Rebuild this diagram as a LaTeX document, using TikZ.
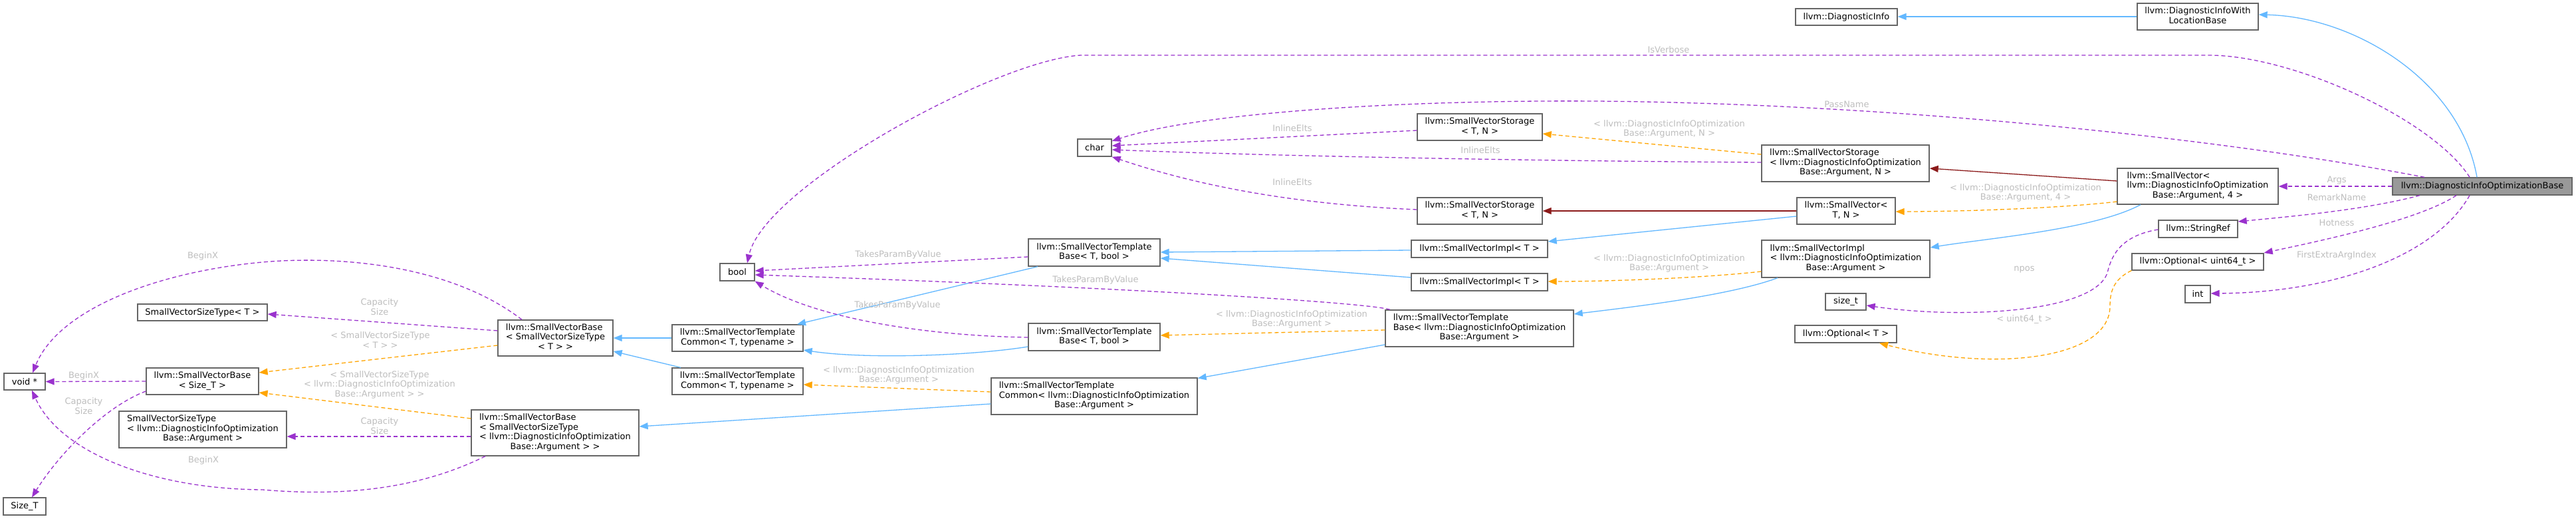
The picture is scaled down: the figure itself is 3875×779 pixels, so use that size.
\documentclass[tikz,border=0pt]{standalone}
\usepackage{fontspec}
\setmainfont{DejaVu Sans}
\usetikzlibrary{arrows.meta}
\definecolor{boxgray}{HTML}{666666}
\definecolor{maingray}{HTML}{999999}
\definecolor{inhblue}{HTML}{63B8FF}
\definecolor{tmplorange}{HTML}{FFA500}
\definecolor{usepurple}{HTML}{9A32CD}
\definecolor{strgred}{HTML}{8B1A1A}
\definecolor{lblgray}{HTML}{BEBEBE}
\newcommand{\nfont}{\fontsize{13}{14.5}\selectfont}
\newcommand{\nlab}[2]{\begin{tabular}{@{}l@{}}#1\\\multicolumn{1}{@{}c@{}}{#2}\end{tabular}}
\tikzset{
  cbox/.style={draw=boxgray, fill=white, line width=1.3pt, inner sep=0pt, align=center, font=\nfont},
  mainbox/.style={cbox, fill=maingray},
  lbl/.style={text=lblgray, font=\nfont, align=center, inner sep=0pt},
  tipstyle/.style={-{Triangle[length=13pt,width=10pt]}},
  inh/.style={draw=inhblue, line width=1.3pt, tipstyle, fill=none},
  strg/.style={draw=strgred, line width=1.3pt, tipstyle},
  tmpl/.style={draw=tmplorange, line width=1.3pt, dash pattern=on 6pt off 4pt, tipstyle},
  usage/.style={draw=usepurple, line width=1.3pt, dash pattern=on 6pt off 4pt, tipstyle},
}
\begin{document}
\begin{tikzpicture}[x=1pt,y=-1pt]
\fill[white] (0,0) rectangle (3875,779);
\useasboundingbox (0,0) rectangle (3875,779);

% nodes
\node[mainbox, minimum width=270pt, minimum height=26pt] (main) at (3734,280) {llvm::DiagnosticInfoOptimizationBase};
\node[cbox, minimum width=182pt, minimum height=40pt] (diwlb) at (3306,25) {\nlab{llvm::DiagnosticInfoWith}{LocationBase}};
\node[cbox, minimum width=153pt, minimum height=25pt] (dinfo) at (2777.5,25.5) {llvm::DiagnosticInfo};
\node[cbox, minimum width=242pt, minimum height=54pt] (sv4) at (3306,280) {\nlab{llvm::SmallVector<\\ llvm::DiagnosticInfoOptimization}{Base::Argument, 4 >}};
\node[cbox, minimum width=252pt, minimum height=55pt] (svsArgN) at (2776,245.5) {\nlab{llvm::SmallVectorStorage\\< llvm::DiagnosticInfoOptimization}{Base::Argument, N >}};
\node[cbox, minimum width=188pt, minimum height=40pt] (svsTN1) at (2226,191) {\nlab{llvm::SmallVectorStorage}{< T, N >}};
\node[cbox, minimum width=188pt, minimum height=40pt] (svsTN2) at (2226,317) {\nlab{llvm::SmallVectorStorage}{< T, N >}};
\node[cbox, minimum width=148pt, minimum height=40pt] (svTN) at (2777,317) {\nlab{llvm::SmallVector<}{T, N >}};
\node[cbox, minimum width=205pt, minimum height=26pt] (svimplT1) at (2225.5,374) {llvm::SmallVectorImpl< T >};
\node[cbox, minimum width=205pt, minimum height=26pt] (svimplT2) at (2225.5,424) {llvm::SmallVectorImpl< T >};
\node[cbox, minimum width=253pt, minimum height=56pt] (svimplArg) at (2776.5,389) {\nlab{llvm::SmallVectorImpl\\< llvm::DiagnosticInfoOptimization}{Base::Argument >}};
\node[cbox, minimum width=61pt, minimum height=25pt] (sizet) at (2776.5,453.5) {size\_t};
\node[cbox, minimum width=153pt, minimum height=26pt] (optT) at (2776.5,502) {llvm::Optional< T >};
\node[cbox, minimum width=119pt, minimum height=26pt] (stringref) at (3306.5,344) {llvm::StringRef};
\node[cbox, minimum width=198pt, minimum height=25pt] (optu64) at (3306,393.5) {llvm::Optional< uint64\_t >};
\node[cbox, minimum width=38pt, minimum height=26pt] (nInt) at (3306,442) {int};
\node[cbox, minimum width=51pt, minimum height=26pt] (nChar) at (1646.5,222) {char};
\node[cbox, minimum width=198pt, minimum height=41pt] (svtbTbool1) at (1646,379.5) {\nlab{llvm::SmallVectorTemplate}{Base< T, bool >}};
\node[cbox, minimum width=198pt, minimum height=41pt] (svtbTbool2) at (1646,506.5) {\nlab{llvm::SmallVectorTemplate}{Base< T, bool >}};
\node[cbox, minimum width=283pt, minimum height=55pt] (svtbArg) at (2225.5,493.5) {\nlab{llvm::SmallVectorTemplate\\Base< llvm::DiagnosticInfoOptimization}{Base::Argument >}};
\node[cbox, minimum width=310pt, minimum height=55pt] (svtcArg) at (1646,595.5) {\nlab{llvm::SmallVectorTemplate\\Common< llvm::DiagnosticInfoOptimization}{Base::Argument >}};
\node[cbox, minimum width=52pt, minimum height=26pt] (nBool) at (1109,409) {bool};
\node[cbox, minimum width=197pt, minimum height=40pt] (svtcT1) at (1109.5,508) {\nlab{llvm::SmallVectorTemplate}{Common< T, typename >}};
\node[cbox, minimum width=197pt, minimum height=40pt] (svtcT2) at (1109.5,573) {\nlab{llvm::SmallVectorTemplate}{Common< T, typename >}};
\node[cbox, minimum width=173pt, minimum height=54pt] (svbSVSTT) at (835.5,508) {\nlab{llvm::SmallVectorBase\\< SmallVectorSizeType}{< T > >}};
\node[cbox, minimum width=252pt, minimum height=69pt] (svbSVSTArg) at (835,650.5) {\nlab{llvm::SmallVectorBase\\< SmallVectorSizeType\\< llvm::DiagnosticInfoOptimization}{Base::Argument > >}};
\node[cbox, minimum width=195pt, minimum height=25pt] (svstT) at (304.5,469.5) {SmallVectorSizeType< T >};
\node[cbox, minimum width=169pt, minimum height=40pt] (svbSizeT) at (304.5,573) {\nlab{llvm::SmallVectorBase}{< Size\_T >}};
\node[cbox, minimum width=252pt, minimum height=55pt] (svstArg) at (305,645.5) {\nlab{SmallVectorSizeType\\< llvm::DiagnosticInfoOptimization}{Base::Argument >}};
\node[cbox, minimum width=62pt, minimum height=25pt] (voidp) at (37,573.5) {void *};
\node[cbox, minimum width=64pt, minimum height=26pt] (sizeT) at (37,761) {Size\_T};

% inheritance (blue)
\draw[inh] ([xshift=-8pt]main.north) .. controls (3700,120) and (3540,25) .. ([yshift=3pt]diwlb.east);
\draw[inh] (diwlb.west) -- (diwlb.west -| dinfo.east);
\draw[inh] ([yshift=-8pt]svTN.west) -- ([yshift=11pt]svimplT1.east);
\draw[inh] ([xshift=-102.5pt]svimplArg.south) .. controls (2600,445) and (2450,462) .. ([yshift=21.5pt]svtbArg.east);
\draw[inh] ([xshift=-86pt]sv4.south) .. controls (3150,345) and (2990,358) .. ([yshift=17pt]svimplArg.east);
\draw[inh] ([yshift=-2pt]svimplT1.west) -- ([yshift=0.5pt]svtbTbool1.east);
\draw[inh] ([yshift=7pt]svimplT2.west) -- ([yshift=-8.5pt]svtbTbool1.east);
\draw[inh] ([xshift=-85pt]svtbTbool1.south) -- ([xshift=89.5pt]svtcT1.north);
\draw[inh] ([yshift=-14.5pt]svtbTbool2.west) .. controls (1460,535) and (1300,540) .. ([yshift=-18pt]svtcT1.east);
\draw[inh] ([yshift=-24.5pt]svtbArg.west) -- ([yshift=27pt]svtcArg.east);
\draw[inh] ([yshift=-11.5pt]svtcArg.west) -- ([yshift=9.5pt]svbSVSTArg.east);
\draw[inh] (svtcT1.west) -- (svbSVSTT.east);
\draw[inh] ([xshift=-85.5pt]svtcT2.north) -- ([yshift=-20pt]svbSVSTT.east);

% storage (dark red)
\draw[strg] ([yshift=8pt]sv4.west) -- ([yshift=-7.5pt]svsArgN.east);
\draw[strg] (svTN.west) -- (svsTN2.east);

% template instances (orange)
\draw[tmpl] ([yshift=-23pt]sv4.west) .. controls (3100,313) and (2950,318) .. ([yshift=-1pt]svTN.east);
\draw[tmpl] ([yshift=13.5pt]svsArgN.west) -- ([yshift=-10pt]svsTN1.east);
\draw[tmpl] ([yshift=-19pt]svimplArg.west) .. controls (2560,418) and (2420,423) .. ([yshift=1pt]svimplT2.east);
\draw[tmpl] ([yshift=-2.5pt]svtbArg.west) -- ([yshift=2.5pt]svtbTbool2.east);
\draw[tmpl] ([yshift=6.5pt]svtcArg.west) -- ([yshift=-5pt]svtcT2.east);
\draw[tmpl] ([yshift=-11pt]svbSVSTT.west) -- ([yshift=13pt]svbSizeT.east);
\draw[tmpl] ([yshift=21.5pt]svbSVSTArg.west) -- ([yshift=-17pt]svbSizeT.east);
\draw[tmpl] (optu64.south west) .. controls (3178,420) and (3174,440) .. (3174,460) .. controls (3174,540) and (3000,560) .. ([xshift=50.5pt]optT.south);

% usage (purple)
\draw[usage] ([xshift=-19pt]main.north) .. controls (3660,180) and (3450,83) .. (3322,83) -- (1626,83) .. controls (1500,90) and (1150,280) .. ([xshift=15pt]nBool.north);
\draw[usage] ([xshift=-87pt]main.north) .. controls (3300,200) and (2800,155) .. (2400,152) .. controls (2100,150) and (1800,170) .. ([yshift=10pt]nChar.east);
\draw[usage] ([yshift=1.5pt]svsArgN.west) .. controls (2300,242) and (1900,234) .. ([yshift=-3pt]nChar.east);
\draw[usage] ([yshift=-5pt]svsTN1.west) -- ([yshift=3pt]nChar.east);
\draw[usage] ([yshift=2pt]svsTN2.west) .. controls (1900,305) and (1760,265) .. (nChar.south east);
\draw[usage] ([yshift=-6.5pt]svtbTbool1.west) -- ([yshift=2pt]nBool.east);
\draw[usage] ([xshift=-134.5pt]svtbArg.north) .. controls (2060,455) and (1700,432) .. ([yshift=-4pt]nBool.east);
\draw[usage] ([yshift=-0.5pt]svtbTbool2.west) .. controls (1400,505) and (1230,480) .. (nBool.south east);
\draw[usage] ([yshift=11pt]svbSVSTT.west) -- ([yshift=-2.5pt]svstT.east);
\draw[usage] ([xshift=-50.5pt]svbSVSTT.north) .. controls (680,400) and (520,385) .. (407,393) .. controls (250,405) and (90,460) .. ([xshift=12pt]voidp.north);
\draw[usage] (svbSizeT.west) -- (voidp.east);
\draw[usage] ([yshift=-15pt]svbSizeT.west) .. controls (160,610) and (90,680) .. ([xshift=11pt]sizeT.north);
\draw[usage] ([yshift=-5.5pt]svbSVSTArg.west) -- ([yshift=-10.5pt]svstArg.east);
\draw[usage] ([xshift=-105pt]svbSVSTArg.south) .. controls (620,740) and (500,745) .. (395,736) .. controls (230,735) and (90,680) .. ([xshift=11pt]voidp.south);
\draw[usage] (main.west) -- (sv4.east);
\draw[usage] ([xshift=-94pt]main.south) .. controls (3560,315) and (3450,325) .. ([yshift=11pt]stringref.east);
\draw[usage] ([xshift=-39pt]main.south) .. controls (3640,330) and (3500,360) .. ([yshift=13.5pt]optu64.east);
\draw[usage] ([xshift=-19pt]main.south) .. controls (3660,390) and (3500,440) .. ([yshift=1pt]nInt.east);
\draw[usage] ([yshift=-1pt]stringref.west) .. controls (3185,355) and (3175,390) .. (3170,410) .. controls (3150,470) and (2950,480) .. ([yshift=-5.5pt]sizet.east);

% edge labels
\node[lbl] (l1) at (2510,75) {IsVerbose};
\node[lbl] (l2) at (2778,157) {PassName};
\node[lbl] (l3) at (2511,194) {< llvm::DiagnosticInfoOptimization\\Base::Argument, N >};
\node[lbl] (l4) at (2227,226) {InlineElts};
\node[lbl] (l5) at (1944,193) {InlineElts};
\node[lbl] (l6) at (1944,274) {InlineElts};
\node[lbl] (l7) at (3515,271) {Args};
\node[lbl] (l8) at (3515,297) {RemarkName};
\node[lbl] (l9) at (3515,335) {Hotness};
\node[lbl] (l10) at (3515,384) {FirstExtraArgIndex};
\node[lbl] (l11) at (3047,290) {< llvm::DiagnosticInfoOptimization\\Base::Argument, 4 >};
\node[lbl] (l12) at (3045,405) {npos};
\node[lbl] (l13) at (3045,480) {< uint64\_t >};
\node[lbl] (l14) at (2511,396) {< llvm::DiagnosticInfoOptimization\\Base::Argument >};
\node[lbl] (l15) at (1648,421) {TakesParamByValue};
\node[lbl] (l16) at (1350,459) {TakesParamByValue};
\node[lbl] (l17) at (1351,383) {TakesParamByValue};
\node[lbl] (l18) at (1943,480) {< llvm::DiagnosticInfoOptimization\\Base::Argument >};
\node[lbl] (l19) at (1352,564) {< llvm::DiagnosticInfoOptimization\\Base::Argument >};
\node[lbl] (l20) at (571,461) {Capacity\\Size};
\node[lbl] (l21) at (572,511) {< SmallVectorSizeType\\< T > >};
\node[lbl] (l22) at (305,385) {BeginX};
\node[lbl] (l23) at (126,565) {BeginX};
\node[lbl] (l24) at (571,578) {< SmallVectorSizeType\\< llvm::DiagnosticInfoOptimization\\Base::Argument > >};
\node[lbl] (l25) at (126,610) {Capacity\\Size};
\node[lbl] (l26) at (571,640) {Capacity\\Size};
\node[lbl] (l27) at (306,692) {BeginX};
\end{tikzpicture}
\end{document}
